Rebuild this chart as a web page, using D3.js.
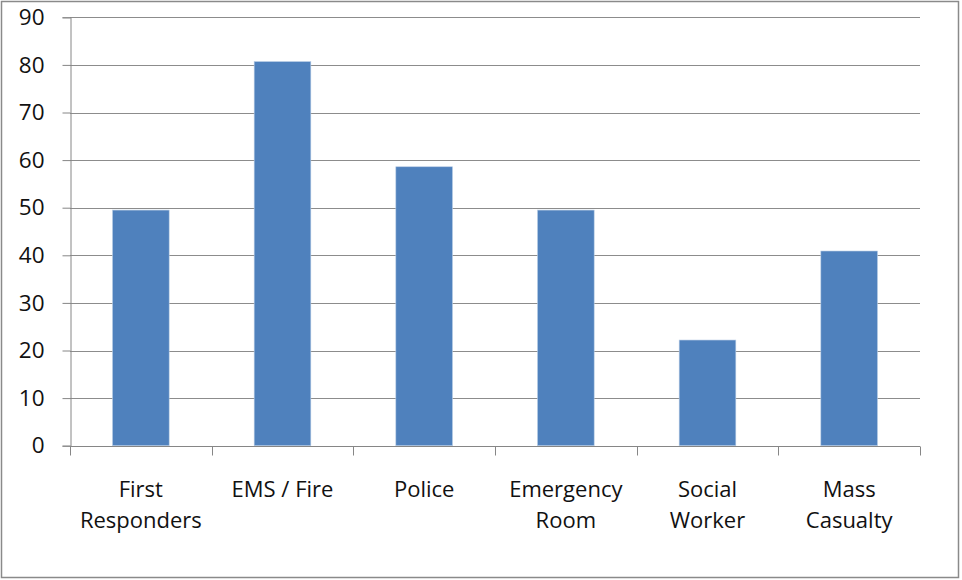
<!DOCTYPE html>
<html><head><meta charset="utf-8">
<script src="https://cdn.jsdelivr.net/npm/d3@7"></script>
<style>body{margin:0;background:#fff}svg{display:block}</style>
</head><body><svg id="c" width="962" height="580"></svg>
<script>
const categories = [["First","Responders"],["EMS / Fire"],["Police"],["Emergency","Room"],["Social","Worker"],["Mass","Casualty"]];
const values = [49.5, 80.7, 58.6, 49.5, 22.2, 40.9];
const yTicks = [0,10,20,30,40,50,60,70,80,90];

const svg = d3.select("#c");
const font = "'Open Sans', sans-serif";
svg.append("rect").attr("x",1.5).attr("y",1.5).attr("width",957).attr("height",576)
  .attr("fill","#fff").attr("stroke","#8a8a8a").attr("stroke-width",1.5);

const L=70, R=920, T=17.3, B=445.7;
const x = d3.scaleBand().domain(d3.range(categories.length)).range([L,R]).paddingInner(0.6).paddingOuter(0.3);
const xb = d3.scaleBand().domain(d3.range(categories.length)).range([L,R]);
const y = d3.scaleLinear().domain([0,90]).range([B,T]);

// gridlines
svg.append("g").selectAll("line").data(yTicks.filter(d=>d>0)).join("line")
  .attr("x1",L).attr("x2",R).attr("y1",d=>Math.round(y(d))+0.5).attr("y2",d=>Math.round(y(d))+0.5)
  .attr("stroke","#8c8c8c").attr("stroke-width",1);

// bars
svg.append("g").selectAll("rect").data(values).join("rect")
  .attr("x",(d,i)=>x(i)).attr("width",x.bandwidth())
  .attr("y",d=>y(d)).attr("height",d=>B-y(d))
  .attr("fill","#4f81bd").attr("stroke","#b9cde5").attr("stroke-width",0.6);

// y axis
const yAxis = d3.axisLeft(y).tickValues(yTicks).tickSize(8).tickPadding(18);
const gy = svg.append("g").attr("transform",`translate(${L+0.5},0)`).call(yAxis);
gy.select(".domain").attr("stroke","#868686");
gy.selectAll(".tick line").attr("stroke","#868686");
gy.selectAll("text").attr("font-family",font).attr("font-size",22.5).attr("fill","#111");

// x axis
const gx = svg.append("g").attr("transform",`translate(0,${Math.round(B)+0.5})`);
gx.append("line").attr("x1",L).attr("x2",R).attr("stroke","#868686");
const bounds = d3.range(categories.length+1).map(i=> i<categories.length ? xb(i) : R);
gx.selectAll("line.t").data(bounds).join("line").attr("class","t")
  .attr("x1",d=>Math.round(d)+0.5).attr("x2",d=>Math.round(d)+0.5).attr("y1",0).attr("y2",9)
  .attr("stroke","#868686");

const lab = svg.append("g");
categories.forEach((lines,i)=>{
  const cx = xb(i)+xb.bandwidth()/2;
  lines.forEach((t,j)=>{
    lab.append("text").attr("x",cx).attr("y",497+j*31).attr("text-anchor","middle")
      .attr("font-family",font).attr("font-size",22).attr("fill","#111").text(t);
  });
});
</script></body></html>
